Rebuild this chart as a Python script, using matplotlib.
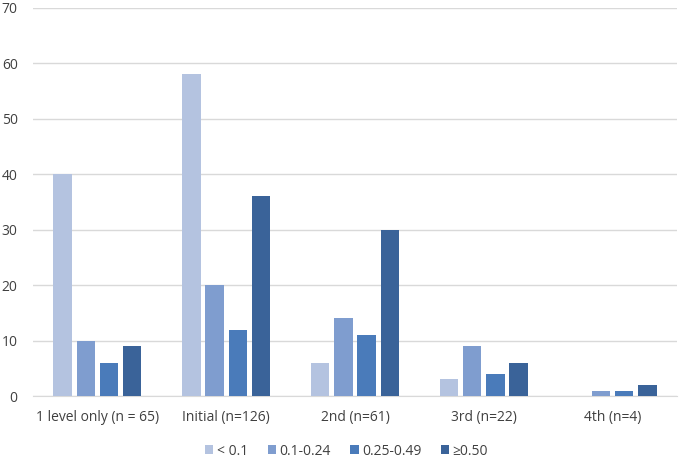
import matplotlib
matplotlib.use('Agg')
import matplotlib.pyplot as plt
import numpy as np

categories = ['1 level only (n = 65)', 'Initial (n=126)', '2nd (n=61)', '3rd (n=22)', '4th (n=4)']
series_names = ['< 0.1', '0.1-0.24', '0.25-0.49', '\u22650.50']
lt_01 = [40, 58, 6, 3, 0]
s01_024 = [10, 20, 14, 9, 1]
s025_049 = [6, 12, 11, 4, 1]
ge_050 = [9, 36, 30, 6, 2]
colors = ['#B4C3E0', '#7F9DCF', '#4A7BBA', '#3A6399']

plt.rcParams['font.family'] = ['Open Sans', 'DejaVu Sans']

fig = plt.figure(figsize=(6.8, 4.59), dpi=100)
ax = fig.add_axes([0.0485, 0.137, 0.947, 0.846])

x = np.arange(len(categories))
step = 0.18
width = 0.143
all_series = [lt_01, s01_024, s025_049, ge_050]
for i, (vals, name, c) in enumerate(zip(all_series, series_names, colors)):
    ax.bar(x + (i - 1.5) * step, vals, width, color=c, label=name, zorder=3)

ax.set_xlim(-0.5, len(categories) - 0.5)
ax.set_ylim(0, 70)
ax.set_yticks(range(0, 71, 10))
ax.set_xticks(x)
ax.set_xticklabels(categories)
ax.grid(axis='y', color='#D9D9D9', linewidth=1, zorder=0)
for s in ['top', 'right', 'left']:
    ax.spines[s].set_visible(False)
ax.spines['bottom'].set_color('#D9D9D9')
ax.tick_params(axis='both', length=0, labelsize=10, labelcolor='#404040')
ax.tick_params(axis='y', pad=11)
ax.tick_params(axis='x', pad=10)

ax.legend(loc='center', bbox_to_anchor=(0.487, -0.142), ncol=4, frameon=False,
          fontsize=10, handlelength=0.6, handleheight=0.6, handletextpad=0.25,
          columnspacing=1.4, labelcolor='#404040', borderpad=0)

fig.savefig('out.png', dpi=100)
